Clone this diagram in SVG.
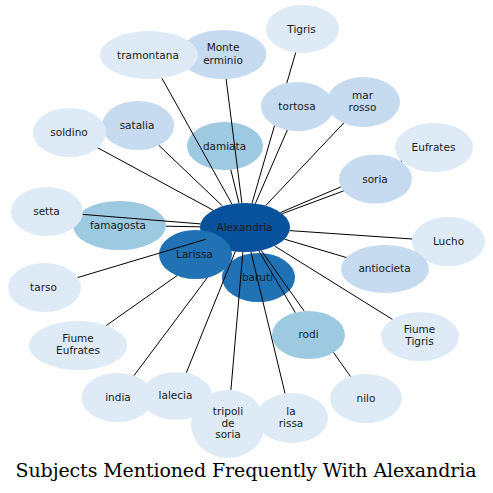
<svg xmlns="http://www.w3.org/2000/svg" width="493" height="493" viewBox="0 0 493 493">
<style>
.n text{font-family:"DejaVu Sans",sans-serif;font-size:10.5px;fill:#1a1a1a;text-anchor:middle}
.c1{fill:#deebf7}.c2{fill:#c6dbef}.c3{fill:#9ecae1}.c4{fill:#2171b5}.c5{fill:#08519c}
#edges path{stroke:#000;stroke-width:1;fill:none}
.title{font-family:"DejaVu Serif",serif;font-size:19px;fill:#000;text-anchor:middle}
</style>
<rect width="493" height="493" fill="#fff"/>
<g id="n-monte-erminio" class="n"><ellipse class="c2" cx="223" cy="54.5" rx="43.5" ry="24.5"/><text x="223" y="51">Monte</text><text x="223" y="63.5">erminio</text></g>
<g id="n-tramontana" class="n"><ellipse class="c1" cx="149" cy="55" rx="49" ry="24"/><text x="148" y="58.5">tramontana</text></g>
<g id="n-tigris" class="n"><ellipse class="c1" cx="302.5" cy="29" rx="36.5" ry="24"/><text x="301.5" y="32.5">Tigris</text></g>
<g id="n-tortosa" class="n"><ellipse class="c2" cx="297.5" cy="106.5" rx="36.5" ry="24.5"/><text x="297" y="110">tortosa</text></g>
<g id="n-mar-rosso" class="n"><ellipse class="c2" cx="363.5" cy="102" rx="36.5" ry="25"/><text x="362.5" y="99">mar</text><text x="362.5" y="111">rosso</text></g>
<g id="n-satalia" class="n"><ellipse class="c2" cx="138" cy="125.5" rx="36" ry="24.5"/><text x="137" y="129">satalia</text></g>
<g id="n-soldino" class="n"><ellipse class="c1" cx="69.5" cy="132.5" rx="36.5" ry="24.5"/><text x="69" y="136">soldino</text></g>
<g id="n-damiata" class="n"><ellipse class="c3" cx="225" cy="146" rx="38" ry="24"/><text x="224.5" y="149.5">damiata</text></g>
<g id="n-eufrates" class="n"><ellipse class="c1" cx="434" cy="147.5" rx="39" ry="24.5"/><text x="433.5" y="151">Eufrates</text></g>
<g id="n-soria" class="n"><ellipse class="c2" cx="375.5" cy="179" rx="36.5" ry="24.5"/><text x="375" y="182.5">soria</text></g>
<g id="n-famagosta" class="n"><ellipse class="c3" cx="119.5" cy="225.5" rx="46.5" ry="24.5"/><text x="118" y="228.5">famagosta</text></g>
<g id="n-setta" class="n"><ellipse class="c1" cx="47" cy="211.5" rx="36" ry="24.5"/><text x="46.5" y="214.5">setta</text></g>
<g id="n-alexandria" class="n"><ellipse class="c5" cx="245" cy="227.5" rx="45" ry="24.5"/><text x="244.5" y="231">Alexandria</text></g>
<g id="n-larissa" class="n"><ellipse class="c4" cx="195.5" cy="254.5" rx="36.5" ry="24.5"/><text x="194.5" y="257.5">Larissa</text></g>
<g id="n-baruti" class="n"><ellipse class="c4" cx="258.5" cy="277.5" rx="36.5" ry="24.5"/><text x="257.5" y="280.5">baruti</text></g>
<g id="n-lucho" class="n"><ellipse class="c1" cx="448.5" cy="241.5" rx="36.5" ry="24.5"/><text x="448.5" y="245">Lucho</text></g>
<g id="n-antiocieta" class="n"><ellipse class="c2" cx="385" cy="269" rx="44" ry="24"/><text x="384.5" y="272">antiocieta</text></g>
<g id="n-tarso" class="n"><ellipse class="c1" cx="44.5" cy="287.5" rx="36.5" ry="24.5"/><text x="43.5" y="290.5">tarso</text></g>
<g id="n-fiume-eufrates" class="n"><ellipse class="c1" cx="78" cy="345.5" rx="49" ry="24.5"/><text x="78" y="342">Fiume</text><text x="78" y="354">Eufrates</text></g>
<g id="n-fiume-tigris" class="n"><ellipse class="c1" cx="420" cy="336.5" rx="39" ry="24.5"/><text x="419.5" y="333">Fiume</text><text x="419.5" y="345">Tigris</text></g>
<g id="n-rodi" class="n"><ellipse class="c3" cx="308.5" cy="335" rx="36.5" ry="24"/><text x="308.5" y="338">rodi</text></g>
<g id="n-india" class="n"><ellipse class="c1" cx="117.5" cy="397.5" rx="36" ry="24.5"/><text x="118" y="400.5">india</text></g>
<g id="n-lalecia" class="n"><ellipse class="c1" cx="176.5" cy="396" rx="35.5" ry="24"/><text x="175.5" y="399">lalecia</text></g>
<g id="n-tripoli-de-soria" class="n"><ellipse class="c1" cx="228" cy="424" rx="37" ry="34"/><text x="228" y="415">tripoli</text><text x="228" y="426.7">de</text><text x="228" y="438.3">soria</text></g>
<g id="n-la-rissa" class="n"><ellipse class="c1" cx="292" cy="418" rx="36" ry="25"/><text x="291" y="414.5">la</text><text x="291" y="426.5">rissa</text></g>
<g id="n-nilo" class="n"><ellipse class="c1" cx="366" cy="398.5" rx="36" ry="24.5"/><text x="366" y="401.5">nilo</text></g>
<g id="edges">
<path d="M161.9,78.2 L232,204.1"/>
<path d="M226.1,78.9 L241.9,203.1"/>
<path d="M230.8,169.7 L239,203.2"/>
<path d="M287.3,130 L255.3,203.7"/>
<path d="M295.7,52.6 L286.8,83.1 M274.5,125.6 L252,203.3"/>
<path d="M343.7,123 L265.6,205.7"/>
<path d="M158.9,145.4 L222.7,206.2"/>
<path d="M97.9,147.9 L213.1,210.2"/>
<path d="M82.7,214.4 L200.5,223.9"/>
<path d="M166,226.2 L200,226.8"/>
<path d="M77.8,277.5 L205.6,239.3"/>
<path d="M106.3,325.5 L177,275.6"/>
<path d="M133.9,375.7 L207.4,277.6"/>
<path d="M186.3,372.8 L235.3,251.4"/>
<path d="M230.9,390.1 L242.9,252"/>
<path d="M285,393.3 L250.9,251.8"/>
<path d="M295.3,312.6 L258.8,250.8"/>
<path d="M350.4,376.4 L333.5,352.5 M304.2,311.1 L261.2,250.4"/>
<path d="M392.3,319.3 L274.6,246"/>
<path d="M346.3,257.5 L284.5,239.2"/>
<path d="M412.2,239 L289.6,230.6"/>
<path d="M343.6,190.9 L282.2,213.7"/>
<path d="M401.7,161.2 L401,161.5 M340.9,186.9 L280.5,212.5"/>
</g>
<text class="title" x="246" y="477" textLength="461">Subjects Mentioned Frequently With Alexandria</text>
</svg>
